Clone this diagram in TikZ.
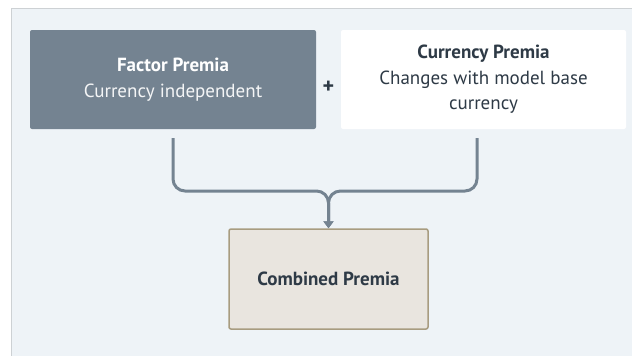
\documentclass[tikz,border=0pt]{standalone}
\usepackage{fontspec}
\setmainfont{PT Sans}
\usetikzlibrary{calc,positioning,arrows.meta}

\definecolor{panelbg}{HTML}{EEF3F7}
\definecolor{panelrule}{HTML}{CDD1D4}
\definecolor{slate}{HTML}{748391}
\definecolor{inkdark}{HTML}{2E3A46}
\definecolor{sand}{HTML}{E9E5DF}
\definecolor{sandrule}{HTML}{A89C80}

\tikzset{
    premiabox/.style={rounded corners=2pt, minimum width=286pt, minimum height=99pt,
        align=center, font=\fontsize{19}{25.5}\selectfont, inner sep=0pt},
    link/.style={line width=3pt, draw=slate, rounded corners=12pt,
        -{Triangle[width=10pt,length=7pt]}},
}

\begin{document}
\begin{tikzpicture}[x=1pt,y=-1pt]
        \useasboundingbox (0,0) rectangle (632,356);
        % light panel behind everything
        \fill[white] (0,0) rectangle (632,356);
        \fill[panelbg] (11,8) rectangle (632,356);
        \draw[panelrule, line width=1pt] (11,356) -- (11,8) -- (632,8);

        % the two inputs
        \node[premiabox, fill=slate, text=white] (factor) at (173,79.5)
            {\textbf{Factor Premia}\\ \color{white!92!slate}Currency independent};
        \node[premiabox, fill=white, text=inkdark, minimum width=285pt] (currency) at (483.5,79.5)
            {\textbf{Currency Premia}\\ Changes with model base\\ currency};
        \node[font=\fontsize{22}{22}\selectfont\bfseries, text=inkdark] (plus) at (328.5,87) {+};

        % result
        \node[premiabox, fill=sand, draw=sandrule, line width=1.5pt, text=inkdark,
              minimum width=199pt, minimum height=100pt] (combined) at (328.5,279)
            {\textbf{Combined Premia}};

        % connectors meet above the result
        \coordinate (merge) at (328.5,191);
        \draw[link] ([yshift=-9pt]factor.south) |- (merge) -- (combined.north);
        \draw[link] ([shift={(-6.5pt,-9pt)}]currency.south) |- (merge) -- (combined.north);
    \end{tikzpicture}
\end{document}
